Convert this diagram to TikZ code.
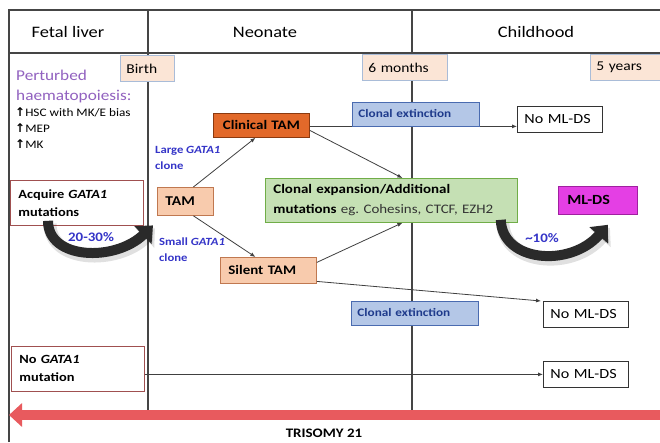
\documentclass[tikz,border=0pt]{standalone}
\usepackage{fontspec}
\setmainfont{Carlito}[FakeStretch=1.15]
\newfontfamily\dejavu{DejaVu Sans}
\usetikzlibrary{arrows.meta,calc}
\definecolor{framec}{HTML}{454545}
\definecolor{birthfill}{HTML}{FBE5D6}
\definecolor{birthdraw}{HTML}{A9BCD8}
\definecolor{purp}{HTML}{9262C0}
\definecolor{bluetxt}{HTML}{3535C8}
\definecolor{tamfill}{HTML}{F8CBAD}
\definecolor{tamdraw}{HTML}{C07850}
\definecolor{clinfill}{HTML}{E2692A}
\definecolor{clindraw}{HTML}{8B3A10}
\definecolor{greenfill}{HTML}{C5E0B4}
\definecolor{greendraw}{HTML}{70AD47}
\definecolor{mldsfill}{HTML}{E43FE4}
\definecolor{mldsdraw}{HTML}{A020A0}
\definecolor{extfill}{HTML}{B4C7E7}
\definecolor{extdraw}{HTML}{4A6BB0}
\definecolor{exttxt}{HTML}{1F3B8C}
\definecolor{acqdraw}{HTML}{A05050}
\definecolor{redc}{HTML}{E85A5E}
\definecolor{connc}{HTML}{404040}
\definecolor{curvec}{HTML}{2A2A2A}
\newcommand{\uparr}{{\dejavu\bfseries\fontsize{12}{16}\selectfont ↑}}
\tikzset{
  frameline/.style={draw=framec, line width=1.6pt},
  hdr/.style={inner sep=0pt, font=\fontsize{16}{19}\selectfont},
  bx/.style={anchor=north west, inner xsep=7pt, inner ysep=0pt, align=left, line width=0.8pt},
  timebox/.style={bx, fill=birthfill, draw=birthdraw, inner xsep=6pt, minimum height=26pt, font=\fontsize{13.5}{16}\selectfont},
  mutbox/.style={bx, draw=acqdraw, fill=white, inner xsep=8pt, minimum height=45pt, text width=117pt, font=\bfseries\fontsize{12.5}{18}\selectfont},
  tambox/.style={bx, fill=tamfill, draw=tamdraw, inner xsep=8pt, font=\bfseries\fontsize{13.5}{16}\selectfont},
  extbox/.style={bx, fill=extfill, draw=extdraw, inner xsep=6pt, minimum height=24pt, text width=115pt, text=exttxt, font=\bfseries\fontsize{11.5}{14}\selectfont},
  nobox/.style={bx, draw=black!80, fill=white, inner xsep=7pt, minimum height=26pt, text width=71pt, font=\fontsize{14}{16}\selectfont},
  bluelab/.style={anchor=north west, inner sep=0pt, align=left, text=bluetxt, font=\bfseries\fontsize{11}{16}\selectfont},
  pct/.style={inner sep=0pt, text=bluetxt, font=\bfseries\fontsize{13}{15}\selectfont},
  conn/.style={draw=connc, line width=0.8pt, -{Latex[length=5pt,width=4pt]}},
  bigcurve/.style={draw=curvec, line width=10pt, -{Triangle[length=14pt,width=24pt]}},
  curveshadow/.style={draw=black, opacity=0.12, line width=13pt, -{Triangle[length=14pt,width=26pt]}},
  redarrow/.style={draw=redc, line width=10pt, -{Triangle[length=13pt,width=23pt]}}
}
\begin{document}
\begin{tikzpicture}[x=1pt,y=-1pt]
\useasboundingbox (0,0) rectangle (660,442);
\fill[white] (0,0) rectangle (660,442);

% frame
\draw[frameline] (9,442) -- (9,10) -- (660,10);
\draw[frameline] (9,53) -- (660,53);
\draw[frameline] (148,10) -- (148,410);
\draw[frameline] (412,10) -- (412,410);

% headers
\node[hdr] (hfetal) at (68,32) {Fetal liver};
\node[hdr] (hneo) at (265,32) {Neonate};
\node[hdr] (hchild) at (536,32) {Childhood};

% time markers
\node[timebox, text width=42pt] (birth) at (120,55) {Birth};
\node[timebox, text width=73pt] (six) at (362,54) {6 months};
\node[timebox, text width=66pt] (five) at (590,54) {5 years};

% fetal liver texts
\node[anchor=north west, inner sep=0pt, align=left, text=purp, font=\fontsize{15}{20}\selectfont] (pert) at (16,69.5) {Perturbed\\haematopoiesis:};
\node[anchor=north west, inner sep=0pt, align=left, font=\fontsize{11.5}{16}\selectfont] (list) at (15,108)
  {\uparr HSC with MK/E bias\\\uparr MEP\\\uparr MK};

\node[mutbox] (acq) at (10,180) {Acquire \textit{GATA1}\\mutations};
\node[mutbox] (nog) at (11,346) {No \textit{GATA1}\\mutation};

% neonate boxes
\node[tambox, minimum height=28pt, text width=40pt] (tam) at (157,187) {TAM};
\node[bx, fill=clinfill, draw=clindraw, inner xsep=0pt, minimum height=24pt, text width=96pt, align=center, font=\bfseries\fontsize{13}{16}\selectfont] (clin) at (213,113) {Clinical TAM};
\node[tambox, minimum height=26pt, text width=80pt, font=\bfseries\fontsize{13}{16}\selectfont] (silent) at (220,257) {Silent TAM};
\node[bx, fill=greenfill, draw=greendraw, inner xsep=8pt, minimum height=44pt, text width=236pt, font=\fontsize{13}{20}\selectfont] (green) at (265,178)
  {\textbf{Clonal expansion/Additional}\\\textbf{mutations} {\color{black!80}eg.\ Cohesins, CTCF, EZH2}};
\node[bx, fill=mldsfill, draw=mldsdraw, inner xsep=9pt, minimum height=28pt, text width=61pt, font=\bfseries\fontsize{14}{16}\selectfont] (mlds) at (558,186) {ML-DS};

\node[bluelab] (large) at (155,146.5) {Large \textit{GATA1}\\clone};
\node[bluelab] (small) at (159,237.5) {Small \textit{GATA1}\\clone};

% connectors
\draw[conn] ($(tam.north)+(8,0)$) -- ($(clin.south)+(-6,0)$);
\draw[conn] ($(tam.south)+(8,0)$) -- ($(silent.north)+(-13,0)$);
\node[nobox] (nom1) at (517,106) {No ML-DS};
\node[nobox] (nom2) at (543,301) {No ML-DS};
\node[nobox] (nom3) at (543,361) {No ML-DS};
\draw[conn] ($(clin.east)+(0,1)$) -- ($(clin.east -| nom1.west)+(0,1)$);
\draw[conn] ($(clin.east)+(0,5)$) -- ($(green.north)+(11,0)$);
\draw[conn] ($(silent.east)+(0,-8)$) -- ($(green.south)+(11,0)$);
\draw[conn] ($(silent.east)+(0,11)$) -- ($(nom2.north west)+(-2,0)$);
\draw[conn] (nom3.west -| nog.east) -- (nom3.west);

\node[extbox] (ext1) at (352,101.5) {Clonal extinction};
\node[extbox] (ext2) at (351,300.5) {Clonal extinction};

% curved thick arrows
\coordinate (c1s) at ($(acq.south west)+(38,-5)$);
\coordinate (c1e) at ($(tam.west)+(-4,24)$);
\draw[curveshadow] ($(c1s)+(2,3)$) .. controls (50,263) and (117,265) .. ($(c1e)+(2,3)$);
\draw[bigcurve] (c1s) .. controls (48,260) and (115,262) .. (c1e);
\node[pct] (p1) at (91,237) {20-30\%};

\coordinate (c2s) at ($(green.south east)+(-17,-3)$);
\coordinate (c2e) at ($(mlds.south)+(10,10)$);
\draw[curveshadow] ($(c2s)+(2,3)$) .. controls (504,265) and (572,271) .. ($(c2e)+(2,3)$);
\draw[bigcurve] (c2s) .. controls (502,262) and (570,268) .. (c2e);
\node[pct] (p2) at (542,238) {\textasciitilde10\%};

% trisomy arrow
\coordinate (rR) at (662,415);
\coordinate (rL) at (9,415);
\draw[redarrow] (rR) -- (rL);
\node[inner sep=0pt, font=\bfseries\fontsize{13}{15}\selectfont] (tri) at (324,433) {TRISOMY 21};
\end{tikzpicture}
\end{document}
